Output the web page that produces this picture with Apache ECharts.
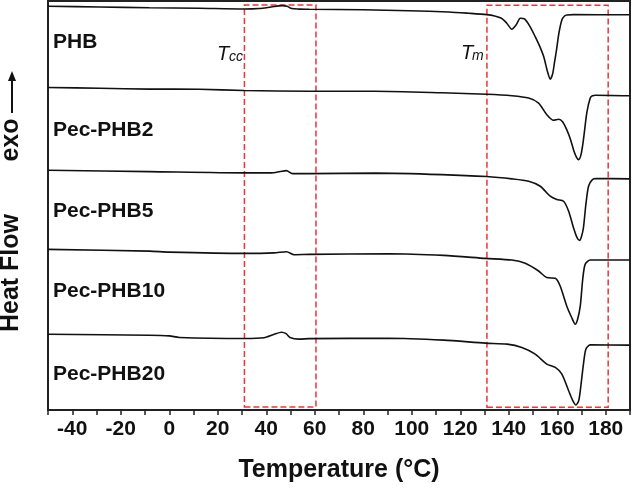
<!DOCTYPE html>
<html>
<head>
<meta charset="utf-8">
<script src="https://cdn.jsdelivr.net/npm/echarts@6/dist/echarts.min.js"></script>
<style>html,body{margin:0;padding:0;background:#fff}#c{width:633px;height:488px}</style>
</head>
<body>
<div id="c"></div>
<script>
// Temperature (°C) vs heat flow (arbitrary units, curves stacked with offsets)
const sampleNames = ['PHB', 'Pec-PHB2', 'Pec-PHB5', 'Pec-PHB10', 'Pec-PHB20'];
const xTicks = [-40, -20, 0, 20, 40, 60, 80, 100, 120, 140, 160, 180];

const PHB = [[-50,404.7],[-28.7,404],[-8.2,403.3],[12.4,402.7],[30.9,402],[37.1,402.5],[42,404],[46.5,405.4],[48.6,404.7],[50.5,402.4],[53.5,401.9],[57.7,401.7],[79.9,401.2],[98.8,400.3],[115.3,399],[123.5,397.7],[130.9,396.3],[134.2,395],[137,392.7],[139.1,388],[141.3,381.7],[143,386],[144.8,392.7],[146.5,392],[148.6,385],[150.9,374.3],[152.7,365],[154.4,354.3],[156,339],[157.1,331.7],[158.1,337],[158.9,349],[159.7,361],[160.7,378],[161.9,391],[163,395],[164,396],[166.7,396.3],[189.7,396.2]];
const PHB2 = [[-50,323.3],[-28.7,322.5],[-8.2,321.7],[12.4,321.5],[30.9,320.3],[57.7,319.5],[84.8,319.5],[112.4,318],[130.9,316.5],[141.3,315],[148.2,312.7],[152.3,307.7],[155.7,296],[158.5,290.5],[160.6,291.5],[162.2,289],[163.9,281],[165.5,271],[166.7,261],[167.9,253.5],[168.8,251],[169.8,256],[170.8,271],[172.2,298],[173.6,312.7],[174.5,315],[175.8,315.5],[189.7,315]];
const PHB5 = [[-50,240.3],[-8.2,239],[30.9,237.7],[42,237.7],[45.7,239],[48.3,240],[50.8,237],[57.7,237],[85.2,237.5],[112.4,236],[130.9,234],[141.3,231.7],[148.2,229.3],[153,224.3],[157.1,214.3],[159.8,211],[162.6,209.3],[164.7,199.3],[166.7,182.7],[168.1,173],[169.2,170],[170,174],[170.8,182.7],[171.8,206],[172.9,224.3],[174.5,231],[176.3,232],[189.7,231.7]];
const PHB10 = [[-50,161],[-8.2,159.3],[0,158.3],[30.9,157],[43.2,157.5],[48.4,158.7],[51.5,155.7],[57.7,156],[90.5,156.7],[113.2,155],[130.4,152],[141.3,150.3],[146.8,147],[152.3,139.3],[155.7,132.7],[159.2,132],[161.2,124.3],[163.9,104.3],[165.9,93],[167.4,86],[168.4,91],[169.5,104.3],[170.5,131],[171.5,146],[173.6,150.3],[189.7,150.3]];
const PHB20 = [[-50,76],[-8.2,75],[0,74.3],[4.2,72.7],[30.9,71.7],[39.1,72.5],[43.3,76],[46.3,78],[48.2,76.5],[49.8,72.7],[53.5,71],[57.7,71.5],[90.5,72],[113.2,70],[130.4,67],[139.3,66],[145.4,62.7],[150.9,56],[155.7,46],[159.2,42.7],[161.9,36],[164.7,19.3],[166.3,10],[167.7,5],[168.8,9],[169.5,19.3],[170.8,46],[171.8,61],[173.6,65.3],[189.7,65]];
const curves = [PHB, PHB2, PHB5, PHB10, PHB20];

// dashed boxes marking Tcc and Tm regions [xStart, yStart, xEnd, yEnd]
const boxTcc = [31, 3, 60.5, 406];
const boxTm = [131, 2.7, 181, 405.7];

const chart = echarts.init(document.getElementById('c'), null, {renderer: 'canvas'});
const FONT = '"Liberation Sans", Arial, Helvetica, sans-serif';

const series = curves.map((d, i) => ({
  type: 'line', name: sampleNames[i], data: d, showSymbol: false, smooth: 0.25,
  lineStyle: {color: '#111', width: 1.6}, silent: true,
  markArea: i === 0 ? {
    silent: true,
    itemStyle: {color: 'rgba(0,0,0,0)', borderColor: '#e8363c', borderWidth: 1.5, borderType: [6, 3]},
    data: [
      [{coord: [boxTcc[0], boxTcc[1]]}, {coord: [boxTcc[2], boxTcc[3]]}],
      [{coord: [boxTm[0], boxTm[1]]}, {coord: [boxTm[2], boxTm[3]]}]
    ]
  } : undefined
}));

const labelYs = [42.5, 130, 211, 291.5, 374];
const graphic = sampleNames.map((n, i) => ({
  type: 'text', x: 53, y: labelYs[i],
  style: {text: n, font: 'bold 21px ' + FONT, fill: '#111', verticalAlign: 'middle', align: 'left'}
}));
graphic.push(
  {type: 'text', x: 11, y: 273, rotation: Math.PI / 2,
   style: {text: 'Heat Flow', font: 'bold 25px ' + FONT, fill: '#111', align: 'center', verticalAlign: 'middle'}},
  {type: 'text', x: 11, y: 140, rotation: Math.PI / 2,
   style: {text: 'exo', font: 'bold 25px ' + FONT, fill: '#111', align: 'center', verticalAlign: 'middle'}},
  {type: 'line', shape: {x1: 12, y1: 113, x2: 12, y2: 79}, style: {stroke: '#111', lineWidth: 2}},
  {type: 'polygon', shape: {points: [[12, 71], [8, 81], [16, 81]]}, style: {fill: '#111'}},
  {type: 'text', x: 217, y: 44, style: {text: 'T', font: 'italic 20px ' + FONT, fill: '#111', verticalAlign: 'alphabetic'}},
  {type: 'text', x: 229, y: 50, style: {text: 'cc', font: 'italic 14px ' + FONT, fill: '#111', verticalAlign: 'alphabetic'}},
  {type: 'text', x: 461, y: 43, style: {text: 'T', font: 'italic 20px ' + FONT, fill: '#111', verticalAlign: 'alphabetic'}},
  {type: 'text', x: 472, y: 49, style: {text: 'm', font: 'italic 14px ' + FONT, fill: '#111', verticalAlign: 'alphabetic'}}
);

chart.setOption({
  animation: false,
  backgroundColor: '#fff',
  grid: {left: 48, right: 2, top: 1, bottom: 77, show: true, borderColor: '#222', borderWidth: 2},
  xAxis: {
    type: 'value', min: -50, max: 190, interval: 10,
    name: 'Temperature (°C)', nameLocation: 'middle', nameGap: 48,
    nameTextStyle: {fontFamily: FONT, fontWeight: 'bold', fontSize: 25, color: '#111'},
    axisLine: {show: true, onZero: false, lineStyle: {color: '#222', width: 2}},
    axisTick: {show: true, length: 5, inside: false, lineStyle: {color: '#222', width: 1.5}},
    splitLine: {show: false},
    axisLabel: {
      interval: 0, margin: 9, fontFamily: FONT, fontWeight: 'bold', fontSize: 21, color: '#111',
      formatter: v => xTicks.indexOf(v) >= 0 ? String(v) : ''
    }
  },
  yAxis: {
    type: 'value', min: 0, max: 410,
    axisLine: {show: true, onZero: false, lineStyle: {color: '#222', width: 2}},
    axisTick: {show: false}, axisLabel: {show: false}, splitLine: {show: false}
  },
  series: series,
  graphic: graphic
});
</script>
</body>
</html>
